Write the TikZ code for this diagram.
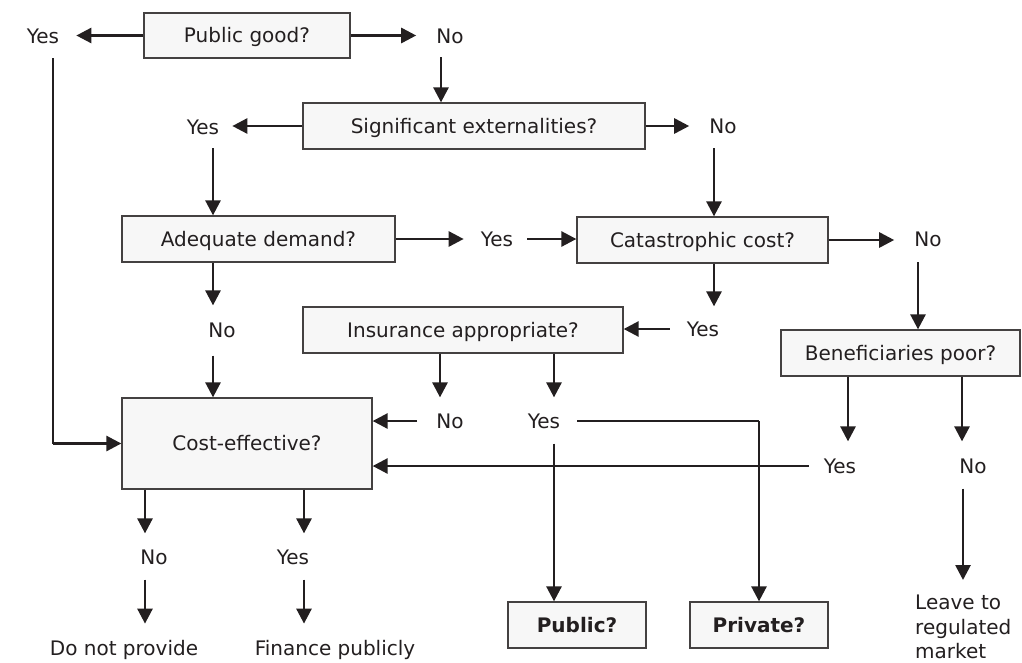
\documentclass[tikz,border=0pt]{standalone}
\usepackage{fontspec}
\setmainfont{DejaVu Sans}
\usetikzlibrary{arrows.meta}
\definecolor{ink}{HTML}{231F20}
\definecolor{boxfill}{HTML}{F7F7F7}
\begin{document}
\begin{tikzpicture}[x=1pt,y=-1pt,
  every node/.style={font=\fontsize{20}{24.5}\selectfont, text=ink},
  qbox/.style={draw=ink!85, line width=1.3pt, fill=boxfill, minimum height=46pt, inner sep=0pt, text height=14.6pt, text depth=0pt},
  lbl/.style={inner sep=0pt},
  arr/.style={draw=ink, line width=2.7pt, -{Triangle[length=15pt,width=15pt]}},
  thinline/.style={draw=ink, line width=1.5pt}]
\fill[white] (0,0) rectangle (1022,662);
\useasboundingbox (0,0) rectangle (1022,662);
% question boxes
\node[qbox, minimum width=206pt, minimum height=45pt] (pg) at (247,35.5) {Public good?};
\node[qbox, minimum width=342pt] (se) at (474,126) {Significant externalities?};
\node[qbox, minimum width=273pt] (ad) at (258.5,239) {Adequate demand?};
\node[qbox, minimum width=251pt] (cc) at (702.5,240) {Catastrophic cost?};
\node[qbox, minimum width=320pt] (ia) at (463,330) {Insurance appropriate?};
\node[qbox, minimum width=239pt] (bp) at (900.5,353) {Beneficiaries poor?};
\node[qbox, minimum width=250pt, minimum height=91pt] (ce) at (247,443.5) {Cost-effective?};
\node[qbox, minimum width=138pt, font=\fontsize{20}{24.5}\selectfont\bfseries] (pub) at (577,625) {Public?};
\node[qbox, minimum width=138pt, font=\fontsize{20}{24.5}\selectfont\bfseries] (pri) at (759,625) {Private?};
% answer labels
\node[lbl] (y1) at (43,36) {Yes};
\node[lbl] (n1) at (450,36) {No};
\node[lbl] (y2) at (203,127) {Yes};
\node[lbl] (n2) at (723,126) {No};
\node[lbl] (y3) at (497,239) {Yes};
\node[lbl] (n3) at (928,239) {No};
\node[lbl] (n4) at (222,330) {No};
\node[lbl] (y4) at (703,329) {Yes};
\node[lbl] (n5) at (450,421) {No};
\node[lbl] (y5) at (544,421) {Yes};
\node[lbl] (y6) at (840,466) {Yes};
\node[lbl] (n6) at (973,466) {No};
\node[lbl] (n7) at (154,557) {No};
\node[lbl] (y7) at (293,557) {Yes};
\node[lbl, anchor=base] (dnp) at (124,655) {Do not provide};
\node[lbl, anchor=base] (fp) at (335,655) {Finance publicly};
\node[lbl, anchor=north west, align=left] (leave) at (915,595) {Leave to\\regulated\\market};
% free ends
\coordinate (ytop) at (53,58);
\coordinate (n1d) at (441,57);
\coordinate (y2d) at (213,148);
\coordinate (n2d) at (714,148);
\coordinate (n3d) at (918,262);
% connectors
\draw[arr, shorten >=17pt] (pg.west) -- (pg.west -| y1.east);
\draw[arr, shorten >=20pt] (pg.east) -- (pg.east -| n1.west);
\draw[thinline] (ytop) -- (ytop |- ce.west);
\draw[arr] (ytop |- ce.west) -- (ce.west);
\draw[arr] (n1d) -- (n1d |- se.north);
\draw[arr, shorten >=13pt] (se.west) -- (se.west -| y2.east);
\draw[arr, shorten >=20pt] (se.east) -- (se.east -| n2.west);
\draw[arr] (y2d) -- (y2d |- ad.north);
\draw[arr] (n2d) -- (n2d |- cc.north);
\draw[arr, shorten >=17pt] (ad.east) -- (ad.east -| y3.west);
\draw[arr, shorten <=14pt] (y3.east) -- (y3.east -| cc.west);
\draw[arr, shorten >=17pt] (y2d |- ad.south) -- (y2d |- n4.north);
\draw[arr, shorten <=18pt] (y2d |- n4.south) -- (y2d |- ce.north);
\draw[arr, shorten >=20pt] (cc.east) -- (cc.east -| n3.west);
\draw[arr] (n3d) -- (n3d |- bp.north);
\draw[arr, shorten >=15pt] (n2d |- cc.south) -- (n2d |- y4.north);
\draw[arr, shorten <=17pt] (y4.west) -- (y4.west -| ia.east);
\draw[arr, shorten >=16pt] ([xshift=-23pt]ia.south) -- ([xshift=-23pt]ia.south |- n5.north);
\draw[arr, shorten >=16pt] ([xshift=91pt]ia.south) -- ([xshift=91pt]ia.south |- y5.north);
\draw[arr, shorten <=19pt] (n5.west) -- (n5.west -| ce.east);
\draw[thinline, shorten <=17pt] (y5.east) -- (y5.east -| pri.north);
\draw[arr] (y5.east -| pri.north) -- (pri.north);
\draw[arr, shorten <=15pt] ([xshift=10pt]y5.south) -- ([xshift=10pt]y5.south |- pub.north);
\draw[arr, shorten >=17pt] ([xshift=-52.5pt]bp.south) -- ([xshift=-52.5pt]bp.south |- y6.north);
\draw[arr, shorten >=17pt] ([xshift=61.5pt]bp.south) -- ([xshift=61.5pt]bp.south |- n6.north);
\draw[arr, shorten <=15pt] (y6.west) -- (y6.west -| ce.east);
\draw[arr, shorten <=15pt, shorten >=15pt] ([xshift=-10pt]n6.south) -- ([xshift=-10pt]n6.south |- leave.north);
\draw[arr, shorten >=16pt] ([xshift=-102pt]ce.south) -- ([xshift=-102pt]ce.south |- n7.north);
\draw[arr, shorten >=16pt] ([xshift=57pt]ce.south) -- ([xshift=57pt]ce.south |- y7.north);
\draw[arr, shorten <=15pt, shorten >=16pt] ([xshift=-9pt]n7.south) -- ([xshift=-9pt]n7.south |- dnp.north);
\draw[arr, shorten <=15pt, shorten >=16pt] ([xshift=11pt]y7.south) -- ([xshift=11pt]y7.south |- fp.north);
\end{tikzpicture}
\end{document}
